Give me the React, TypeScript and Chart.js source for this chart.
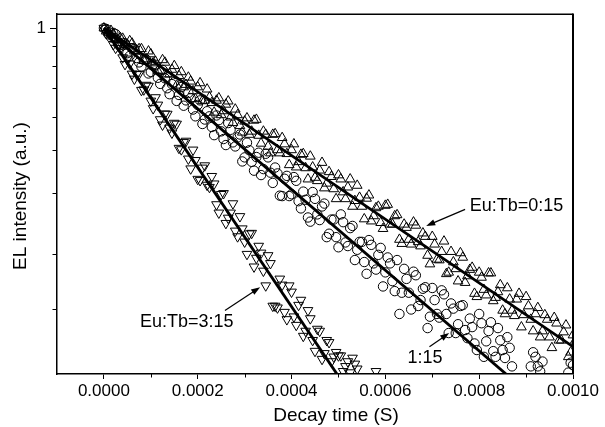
import React, { useEffect, useRef } from 'react';
import { Chart, registerables } from 'chart.js';

Chart.register(...registerables);

const FONT = '"Liberation Sans", Arial, Helvetica, sans-serif';

// time axis (seconds)
const timeS = [
  0, 0.00001, 0.00002, 0.00003, 0.00004, 0.00005, 0.00006, 0.00007, 0.00008, 0.00009,
  0.0001, 0.00011, 0.00012, 0.00013, 0.00014, 0.00015, 0.00016, 0.00017, 0.00018, 0.00019,
  0.0002, 0.00021, 0.00022, 0.00023, 0.00024, 0.00025, 0.00026, 0.00027, 0.00028, 0.00029,
  0.0003, 0.00031, 0.00032, 0.00033, 0.00034, 0.00035, 0.00036, 0.00037, 0.00038, 0.00039,
  0.0004, 0.00041, 0.00042, 0.00043, 0.00044, 0.00045, 0.00046, 0.00047, 0.00048, 0.00049,
  0.0005, 0.00051, 0.00052, 0.00053, 0.00054, 0.00055, 0.00056, 0.00057, 0.00058, 0.00059,
  0.0006, 0.00061, 0.00062, 0.00063, 0.00064, 0.00065, 0.00066, 0.00067, 0.00068, 0.00069,
  0.0007, 0.00071, 0.00072, 0.00073, 0.00074, 0.00075, 0.00076, 0.00077, 0.00078, 0.00079,
  0.0008, 0.00081, 0.00082, 0.00083, 0.00084, 0.00085, 0.00086, 0.00087, 0.00088, 0.00089,
  0.0009, 0.00091, 0.00092, 0.00093, 0.00094, 0.00095, 0.00096, 0.00097, 0.00098, 0.00099,
  0.001, 0.00101, 0.00102,
];
// interleaved sample times (seconds)
const timeHalfS = [
  0.000005, 0.000015, 0.000025, 0.000035, 0.000045, 0.000055, 0.000065, 0.000075, 0.000085, 0.000095,
  0.000105, 0.000115, 0.000125, 0.000135, 0.000145, 0.000155, 0.000165, 0.000175, 0.000185, 0.000195,
  0.000205, 0.000215, 0.000225, 0.000235, 0.000245, 0.000255, 0.000265, 0.000275, 0.000285, 0.000295,
  0.000305, 0.000315, 0.000325, 0.000335, 0.000345, 0.000355, 0.000365, 0.000375, 0.000385, 0.000395,
  0.000405, 0.000415, 0.000425, 0.000435, 0.000445, 0.000455, 0.000465, 0.000475, 0.000485, 0.000495,
  0.000505, 0.000515, 0.000525, 0.000535, 0.000545, 0.000555, 0.000565, 0.000575, 0.000585, 0.000595,
  0.000605, 0.000615, 0.000625, 0.000635, 0.000645, 0.000655, 0.000665, 0.000675, 0.000685, 0.000695,
  0.000705, 0.000715, 0.000725, 0.000735, 0.000745, 0.000755, 0.000765, 0.000775, 0.000785, 0.000795,
  0.000805, 0.000815, 0.000825, 0.000835, 0.000845, 0.000855, 0.000865, 0.000875, 0.000885, 0.000895,
  0.000905, 0.000915, 0.000925, 0.000935, 0.000945, 0.000955, 0.000965, 0.000975, 0.000985, 0.000995,
  0.001005, 0.001015,
];

// Eu:Tb = 0:15 (open up-triangles)
const eu0Values = [
  1.000, 0.973, 0.968, 0.935, 0.942, 0.906, 0.916, 0.875, 0.887, 0.836,
  0.861, 0.824, 0.783, 0.820, 0.766, 0.804, 0.759, 0.711, 0.752, 0.695,
  0.711, 0.656, 0.702, 0.649, 0.658, 0.605, 0.643, 0.597, 0.625, 0.568,
  0.583, 0.540, 0.586, 0.537, 0.550, 0.504, 0.540, 0.494, 0.530, 0.483,
  0.494, 0.447, 0.481, 0.445, 0.476, 0.421, 0.439, 0.396, 0.435, 0.394,
  0.427, 0.387, 0.398, 0.356, 0.402, 0.356, 0.373, 0.327, 0.353, 0.324,
  0.358, 0.321, 0.337, 0.294, 0.321, 0.294, 0.325, 0.290, 0.305, 0.268,
  0.299, 0.262, 0.274, 0.241, 0.274, 0.248, 0.272, 0.229, 0.247, 0.215,
  0.243, 0.220, 0.242, 0.206, 0.217, 0.195, 0.222, 0.195, 0.208, 0.177,
  0.211, 0.185, 0.191, 0.167, 0.190, 0.167, 0.187, 0.164, 0.172, 0.149,
  0.169, 0.151, 0.166,
];
const eu0HalfValues = [
  0.982, 0.986, 0.938, 0.946, 0.900, 0.929, 0.875, 0.887, 0.828, 0.875,
  0.817, 0.780, 0.832, 0.766, 0.787, 0.718, 0.776, 0.721, 0.735, 0.664,
  0.728, 0.658, 0.670, 0.614, 0.667, 0.619, 0.655, 0.578, 0.605, 0.547,
  0.594, 0.550, 0.589, 0.513, 0.540, 0.485, 0.542, 0.485, 0.511, 0.453,
  0.511, 0.461, 0.483, 0.417, 0.447, 0.413, 0.459, 0.407, 0.423, 0.372,
  0.417, 0.372, 0.417, 0.368, 0.375, 0.331, 0.380, 0.337, 0.356, 0.313,
  0.360, 0.321, 0.339, 0.287, 0.315, 0.286, 0.319, 0.283, 0.299, 0.255,
  0.286, 0.261, 0.291, 0.243, 0.258, 0.231, 0.265, 0.238, 0.250, 0.211,
  0.236, 0.213, 0.242, 0.210, 0.226, 0.191, 0.208, 0.189, 0.215, 0.190,
  0.200, 0.173, 0.198, 0.173, 0.185, 0.157, 0.181, 0.164, 0.179, 0.153,
  0.164, 0.144,
];

// Eu:Tb = 1:15 (open circles)
const eu1Values = [
  1.000, 0.964, 0.973, 0.912, 0.918, 0.865, 0.889, 0.841, 0.800, 0.834,
  0.776, 0.809, 0.724, 0.748, 0.682, 0.731, 0.679, 0.638, 0.687, 0.624,
  0.641, 0.574, 0.618, 0.564, 0.603, 0.550, 0.508, 0.555, 0.504, 0.540,
  0.473, 0.493, 0.438, 0.486, 0.442, 0.473, 0.408, 0.431, 0.378, 0.425,
  0.382, 0.413, 0.352, 0.370, 0.326, 0.372, 0.329, 0.362, 0.304, 0.330,
  0.281, 0.325, 0.283, 0.318, 0.277, 0.290, 0.241, 0.285, 0.247, 0.280,
  0.243, 0.256, 0.218, 0.191, 0.248, 0.216, 0.244, 0.200, 0.221, 0.176,
  0.222, 0.191, 0.219, 0.191, 0.203, 0.171, 0.200, 0.174, 0.186, 0.161,
  0.191, 0.149, 0.173, 0.154, 0.176, 0.155, 0.167, 0.141, null, null,
  null, 0.141, 0.149, 0.137, 0.130, null, null, null, null, 0.136,
  0.142,
];
const eu1HalfValues = [
  0.995, 0.948, 0.966, 0.908, 0.916, 0.851, 0.887, 0.820, 0.832, 0.769,
  0.811, 0.750, 0.785, 0.706, 0.723, 0.656, 0.711, 0.658, 0.667, 0.600,
  0.658, 0.589, 0.600, 0.538, 0.587, 0.526, 0.577, 0.516, 0.531, 0.462,
  0.515, 0.461, 0.474, 0.427, 0.483, 0.433, 0.446, 0.379, 0.418, 0.378,
  0.422, 0.367, 0.388, 0.334, 0.387, 0.340, 0.356, 0.298, 0.330, 0.298,
  0.340, 0.289, 0.314, 0.261, 0.290, 0.258, 0.293, 0.256, 0.269, 0.224,
  0.265, 0.231, 0.261, 0.216, 0.234, 0.196, 0.239, 0.207, 0.223, 0.188,
  0.207, 0.187, 0.214, 0.171, 0.197, 0.180, 0.201, 0.166, 0.177, 0.155,
  0.181, 0.163, 0.182, 0.149, 0.164, 0.148, 0.157, null, null, null,
  null, 0.153, 0.141, 0.145, null, null, null, null, null, 0.144,
];

// Eu:Tb = 3:15 (open down-triangles)
const eu3Values = [
  1.000, 0.969, 0.910, 0.903, 0.843, 0.837, 0.767, 0.765, 0.698, 0.719,
  0.656, 0.669, 0.589, 0.609, 0.561, 0.577, 0.499, 0.516, 0.469, 0.494,
  0.417, 0.445, 0.403, 0.424, 0.360, 0.382, 0.323, 0.343, 0.309, 0.336,
  0.290, 0.304, 0.251, 0.283, 0.245, 0.268, 0.200, 0.198, 0.226, 0.185,
  0.217, 0.179, 0.207, 0.173, 0.186, 0.154, 0.173, 0.152, 0.162, 0.149,
  0.150, 0.137, 0.145, 0.148, 0.139, 0.126, 0.130, 0.120, 0.137,
];
const eu3HalfValues = [
  0.970, 0.955, 0.891, 0.889, 0.811, 0.813, 0.745, 0.767, 0.700, 0.715,
  0.628, 0.641, 0.571, 0.608, 0.545, 0.574, 0.495, 0.520, 0.443, 0.465,
  0.414, 0.451, 0.398, 0.406, 0.343, 0.384, 0.333, 0.362, 0.299, 0.313,
  0.270, 0.305, 0.264, 0.272, 0.225, 0.256, 0.200, 0.234, 0.193, 0.225,
  0.188, 0.201, 0.168, 0.195, 0.164, 0.175, 0.147, 0.164, 0.145, 0.153,
  0.150, 0.141, 0.136, 0.143, 0.132, null, null, null,
];

// single-exponential fit lines
const fit0Times = [0, 0.001];
const fit0Values = [1, 0.158];
const fit1Times = [0, 0.000873];
const fit1Values = [1, 0.13];
const fit3Times = [0, 0.000506];
const fit3Values = [1, 0.13];

// axis ticks
const xMajorTicks = [0, 0.0002, 0.0004, 0.0006, 0.0008, 0.001];
const xMinorTicks = [0.0001, 0.0003, 0.0005, 0.0007, 0.0009];
const yMajorTicks = [1];
const yMinorTicks = [0.9, 0.804, 0.705, 0.599, 0.495, 0.385, 0.27, 0.197];

// annotations
const annotationTexts = ['Eu:Tb=0:15', 'Eu:Tb=3:15', '1:15'];
const annotationTextX = [0.00078, 0.0000768, 0.000647];
const annotationTextY = [0.357, 0.182, 0.148];
const arrowFromX = [0.00077, 0.000258, 0.000694];
const arrowFromY = [0.35, 0.195, 0.158];
const arrowToX = [0.000687, 0.000333, 0.000736];
const arrowToY = [0.318, 0.223, 0.171];

function toPoints(xs: number[], ys: (number | null)[]) {
  const pts: { x: number; y: number }[] = [];
  ys.forEach((v, i) => {
    if (v !== null && v !== undefined && xs[i] !== undefined) pts.push({ x: xs[i], y: v });
  });
  return pts;
}

const overlayPlugin = {
  id: 'overlay',
  afterDraw(chart: any) {
    const { ctx, chartArea: a, scales } = chart;
    const xs = scales.x;
    const ys = scales.y;
    ctx.save();
    ctx.strokeStyle = '#000';
    ctx.fillStyle = '#000';
    ctx.lineWidth = 1.5;
    ctx.beginPath();
    ctx.moveTo(a.left, a.top);
    ctx.lineTo(a.right, a.top);
    ctx.stroke();
    ctx.lineWidth = 2;
    ctx.beginPath();
    ctx.moveTo(a.right, a.top - 0.75);
    ctx.lineTo(a.right, a.bottom);
    ctx.stroke();
    ctx.lineWidth = 1;
    xMinorTicks.forEach((v) => {
      const p = Math.round(xs.getPixelForValue(v)) + 0.5;
      ctx.beginPath();
      ctx.moveTo(p, a.bottom);
      ctx.lineTo(p, a.bottom + 3.5);
      ctx.stroke();
    });
    yMinorTicks.forEach((v) => {
      const p = Math.round(ys.getPixelForValue(v)) + 0.5;
      ctx.beginPath();
      ctx.moveTo(a.left - 4.5, p);
      ctx.lineTo(a.left, p);
      ctx.stroke();
    });
    ctx.font = `19px ${FONT}`;
    ctx.textAlign = 'center';
    ctx.textBaseline = 'middle';
    ctx.fillText('Decay time (S)', 336, 416);
    ctx.save();
    ctx.translate(21, 196);
    ctx.rotate(-Math.PI / 2);
    ctx.fillText('EL intensity (a.u.)', 0, 0);
    ctx.restore();
    ctx.font = `18px ${FONT}`;
    ctx.textAlign = 'left';
    annotationTexts.forEach((t, i) => {
      const tx = xs.getPixelForValue(annotationTextX[i]);
      const ty = ys.getPixelForValue(annotationTextY[i]);
      ctx.fillText(t, tx, ty);
      const x0 = xs.getPixelForValue(arrowFromX[i]);
      const y0 = ys.getPixelForValue(arrowFromY[i]);
      const x1 = xs.getPixelForValue(arrowToX[i]);
      const y1 = ys.getPixelForValue(arrowToY[i]);
      const ang = Math.atan2(y1 - y0, x1 - x0);
      const hl = 9;
      const hw = 3.2;
      ctx.lineWidth = 1.2;
      ctx.beginPath();
      ctx.moveTo(x0, y0);
      ctx.lineTo(x1 - Math.cos(ang) * hl * 0.8, y1 - Math.sin(ang) * hl * 0.8);
      ctx.stroke();
      ctx.beginPath();
      ctx.moveTo(x1, y1);
      ctx.lineTo(x1 - Math.cos(ang) * hl - Math.sin(ang) * hw, y1 - Math.sin(ang) * hl + Math.cos(ang) * hw);
      ctx.lineTo(x1 - Math.cos(ang) * hl + Math.sin(ang) * hw, y1 - Math.sin(ang) * hl - Math.cos(ang) * hw);
      ctx.closePath();
      ctx.fill();
    });
    ctx.restore();
  },
};

export default function App() {
  const ref = useRef<HTMLCanvasElement | null>(null);

  useEffect(() => {
    if (!ref.current) return;
    const markerCommon = {
      type: 'scatter' as const,
      showLine: false,
      backgroundColor: 'rgba(0,0,0,0)',
      borderColor: '#000',
      pointBorderWidth: 1,
      borderWidth: 1,
      clip: 0,
      order: 2,
    };
    const lineCommon = {
      type: 'scatter' as const,
      showLine: true,
      borderColor: '#000',
      borderWidth: 2.8,
      pointRadius: 0,
      fill: false,
      clip: 0,
      order: 0,
    };
    const chart = new Chart(ref.current, {
      type: 'scatter',
      data: {
        datasets: [
          {
            ...markerCommon,
            label: 'Eu:Tb=0:15',
            data: [...toPoints(timeS, eu0Values), ...toPoints(timeHalfS, eu0HalfValues)],
            pointStyle: 'triangle',
            pointRadius: 5.6,
          },
          {
            ...markerCommon,
            label: '1:15',
            data: [...toPoints(timeS, eu1Values), ...toPoints(timeHalfS, eu1HalfValues)],
            pointStyle: 'circle',
            pointRadius: 4.7,
          },
          {
            ...markerCommon,
            label: 'Eu:Tb=3:15',
            data: [...toPoints(timeS, eu3Values), ...toPoints(timeHalfS, eu3HalfValues)],
            pointStyle: 'triangle',
            pointRotation: 180,
            pointRadius: 5.6,
          },
          { ...lineCommon, label: 'fit 0:15', data: toPoints(fit0Times, fit0Values) },
          { ...lineCommon, label: 'fit 1:15', data: toPoints(fit1Times, fit1Values) },
          { ...lineCommon, label: 'fit 3:15', data: toPoints(fit3Times, fit3Values) },
        ] as any,
      },
      options: {
        animation: false,
        responsive: false,
        devicePixelRatio: 1,
        layout: { padding: { top: 12, right: 32, left: 0, bottom: 0 } },
        plugins: { legend: { display: false }, tooltip: { enabled: false } },
        scales: {
          x: {
            type: 'linear',
            min: -0.0001,
            max: 0.001,
            afterBuildTicks: (s: any) => {
              s.ticks = xMajorTicks.map((v) => ({ value: v }));
            },
            afterFit: (s: any) => {
              s.height = 53;
            },
            ticks: {
              callback: (v: any) => Number(v).toFixed(4),
              font: { family: FONT, size: 17 },
              color: '#000',
              padding: 2,
              maxRotation: 0,
              autoSkip: false,
            },
            grid: { drawOnChartArea: false, tickLength: 5, color: '#000', lineWidth: 1 },
            border: { color: '#000', width: 1.5 },
          },
          y: {
            type: 'logarithmic',
            min: 0.1349,
            max: 1.084,
            afterBuildTicks: (s: any) => {
              s.ticks = yMajorTicks.map((v) => ({ value: v }));
            },
            afterFit: (s: any) => {
              s.width = 57;
            },
            ticks: {
              callback: (v: any) => (Number(v) === 1 ? '1' : ''),
              font: { family: FONT, size: 17 },
              color: '#000',
              padding: 4,
              autoSkip: false,
            },
            grid: { drawOnChartArea: false, tickLength: 7, color: '#000', lineWidth: 1 },
            border: { color: '#000', width: 1.5 },
          },
        },
      },
      plugins: [overlayPlugin],
    } as any);
    return () => chart.destroy();
  }, []);

  return (
    <div style={{ position: 'fixed', left: 0, top: 0, width: 605, height: 427, background: '#fff' }}>
      <canvas ref={ref} width={605} height={427} style={{ width: 605, height: 427, display: 'block' }} />
    </div>
  );
}
